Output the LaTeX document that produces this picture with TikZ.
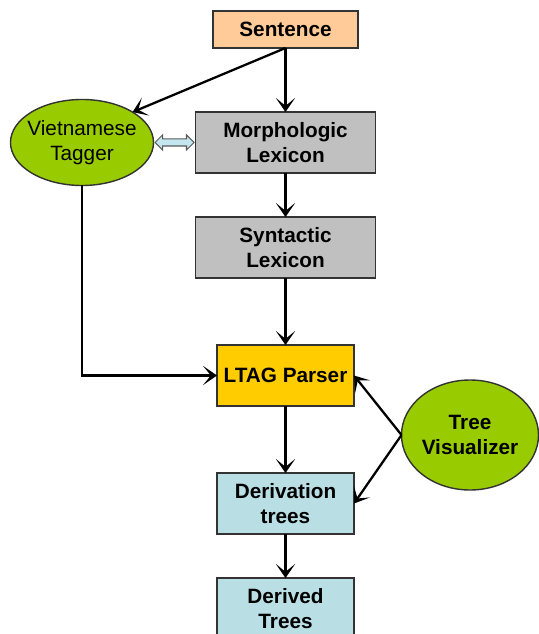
\documentclass[tikz,border=0pt]{standalone}
\usepackage{fontspec}
\setmainfont{Liberation Sans}
\usetikzlibrary{shapes,arrows.meta,positioning}

\definecolor{peach}{HTML}{FFCC99}
\definecolor{lexgray}{HTML}{C0C0C0}
\definecolor{parser}{HTML}{FFCC00}
\definecolor{treeblue}{HTML}{B9DFE5}
\definecolor{leaf}{HTML}{99CC00}
\definecolor{linkblue}{HTML}{C4E6EE}

\begin{document}
\begin{tikzpicture}[
    node distance=1.34cm,
    box/.style={rectangle,draw=black!80,line width=0.8pt,outer sep=0pt,minimum width=2.74cm,minimum height=1.22cm,
        align=center,inner sep=2pt,font=\fontsize{11.8}{14.2}\selectfont\bfseries},
    blob/.style={ellipse,draw=black!80,line width=0.8pt,outer sep=0pt,fill=leaf,align=center,
        inner xsep=-0.1cm,inner ysep=0pt,font=\fontsize{11.8}{14.2}\selectfont},
    link/.style={double arrow,draw=black!65,line width=0.6pt,fill=linkblue,inner sep=0pt,
        minimum height=0.78cm,minimum width=0.28cm,text height=0.12cm,text depth=0pt,
        double arrow head extend=0.08cm},
    arrow/.style={-{Stealth[length=8pt,width=11pt,inset=4.5pt]},line width=1.3pt}
]
\useasboundingbox (0,0) rectangle (10.78,-12.68);

%--- Main column ---%
\node[box,fill=peach,minimum width=2.9cm,minimum height=0.74cm] (sentence) at (5.71,-0.59) {Sentence};
\node[box,fill=lexgray,minimum width=3.6cm,below=1.28cm of sentence] (morph) {Morphologic\\Lexicon};
\node[box,fill=lexgray,minimum width=3.6cm,below=0.88cm of morph] (synt) {Syntactic\\Lexicon};
\node[box,fill=parser,below=of synt] (ltag) {LTAG Parser};
\node[box,fill=treeblue,below=of ltag] (deriv) {Derivation\\trees};
\node[box,fill=treeblue,below=0.88cm of deriv] (derived) {Derived\\Trees};

%--- Side tools ---%
\node[blob,minimum width=2.86cm,minimum height=1.72cm,left=0.84cm of morph] (tagger) {Vietnamese\\Tagger};
\node[blob,font=\fontsize{11.8}{14.2}\selectfont\bfseries,minimum width=2.74cm,minimum height=2.2cm] (vis) at (9.4,-8.7) {Tree\\Visualizer};

%--- Arrows ---%
\draw[arrow] (sentence.south) -- (morph);
\draw[arrow] (sentence.south) -- (tagger.north east);
\path (tagger.east) -- (morph.west) node[midway,link] (tolex) {};
\draw[arrow] (morph) -- (synt);
\draw[arrow] (synt) -- (ltag);
\draw[arrow] (tagger.south) |- (ltag.west);
\draw[arrow] (ltag) -- (deriv);
\draw[arrow] (deriv) -- (derived);
\draw[arrow] (vis.west) -- (ltag.east);
\draw[arrow] (vis.west) -- (deriv.east);

\end{tikzpicture}
\end{document}
